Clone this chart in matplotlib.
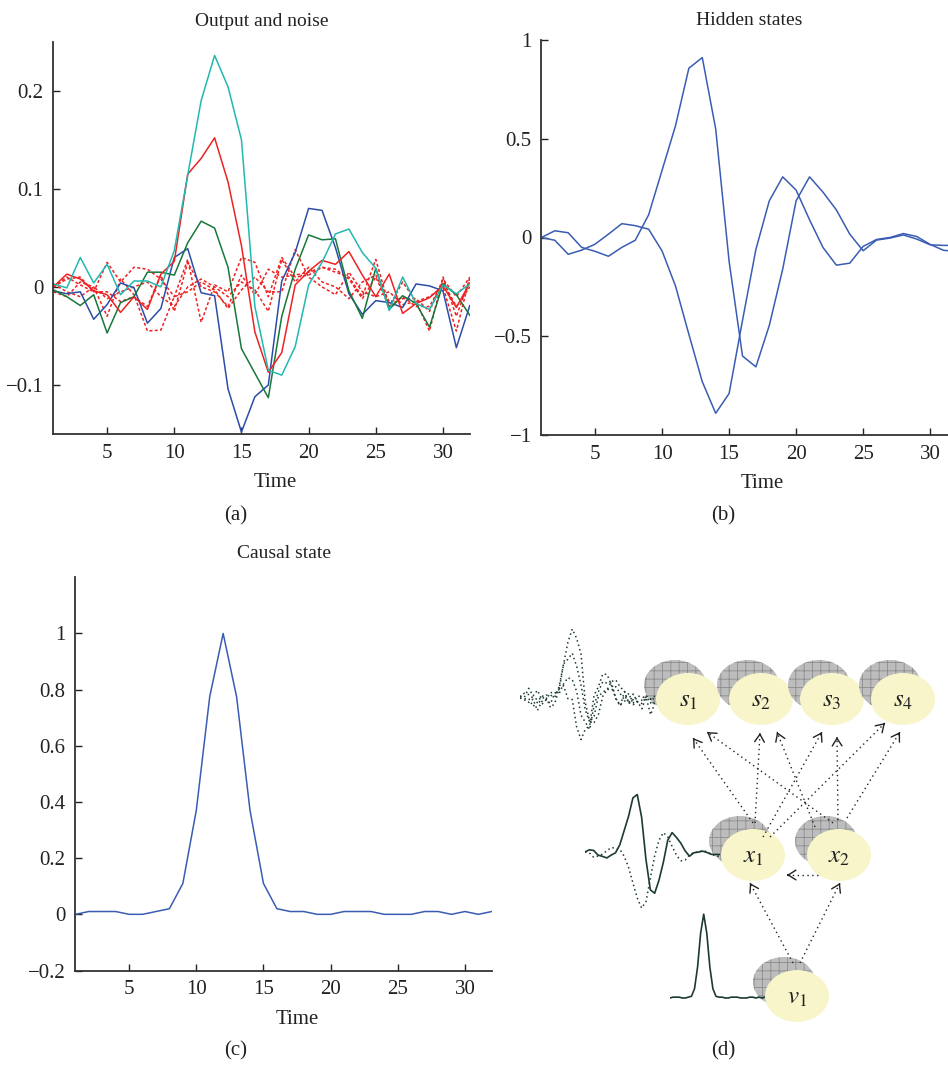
import numpy as np
import matplotlib.pyplot as plt
from matplotlib.patches import Ellipse

plt.rcParams['font.family'] = ['Liberation Serif', 'DejaVu Serif']
plt.rcParams['mathtext.fontset'] = 'stix'
plt.rcParams['hatch.linewidth'] = 0.6

# Data
time = np.arange(1, 33)

out_blue = [-0.004, -0.007, -0.005, -0.033, -0.018, 0.004, -0.001, -0.037, -0.022, 0.03, 0.039,
            -0.006, -0.009, -0.104, -0.148, -0.112, -0.1, 0.006, 0.035, 0.08, 0.078, 0.04,
            -0.007, -0.028, -0.014, -0.016, -0.021, 0.003, 0.001, -0.004, -0.062, -0.019]
out_green = [-0.003, -0.01, -0.019, -0.008, -0.047, -0.016, -0.01, 0.015, 0.015, 0.012, 0.045,
             0.067, 0.06, 0.02, -0.063, -0.088, -0.113, -0.03, 0.018, 0.053, 0.048, 0.049,
             -0.004, -0.032, 0.019, -0.023, -0.009, -0.017, -0.041, 0.003, -0.008, -0.029]
out_red = [0.0, 0.013, 0.008, -0.004, -0.008, -0.026, -0.01, -0.023, 0.013, 0.026, 0.115,
           0.131, 0.152, 0.107, 0.042, -0.046, -0.087, -0.067, 0.002, 0.016, 0.027, 0.023,
           0.036, 0.012, -0.01, 0.013, -0.027, -0.017, -0.011, 0.001, -0.021, 0.004]
out_cyan = [0.003, -0.001, 0.03, 0.004, 0.023, -0.008, 0.006, 0.006, 0.0, 0.037, 0.114,
            0.19, 0.236, 0.204, 0.15, -0.02, -0.085, -0.09, -0.061, 0.002, 0.025, 0.054,
            0.059, 0.035, 0.019, -0.024, 0.01, -0.017, -0.023, 0.002, -0.007, 0.003]

noise_1 = [0.0, 0.008, 0.01, -0.005, 0.025, 0.005, 0.02, 0.018, 0.008, -0.01, 0.028,
           -0.036, 0.002, -0.005, 0.03, 0.025, -0.01, 0.03, 0.01, 0.012, 0.02, 0.015,
           0.01, -0.01, 0.028, -0.02, 0.005, -0.015, -0.01, 0.0, -0.045, 0.01]
noise_2 = [-0.005, -0.01, 0.005, 0.0, -0.03, 0.008, -0.008, -0.045, -0.044, -0.01, -0.005,
           0.005, -0.003, -0.022, -0.003, 0.01, -0.005, -0.005, 0.038, 0.01, 0.0, -0.008,
           0.015, -0.005, -0.01, -0.005, -0.018, -0.015, -0.045, 0.01, -0.03, 0.008]
noise_3 = [0.0, 0.01, 0.002, -0.005, -0.005, -0.015, -0.01, -0.02, 0.012, -0.025, 0.025,
           0.0, -0.005, -0.02, 0.012, -0.008, 0.018, 0.01, 0.012, 0.015, 0.02, 0.018,
           0.008, -0.012, 0.01, -0.02, -0.01, -0.02, -0.02, 0.005, -0.02, 0.0]
noise_4 = [0.003, -0.005, -0.01, 0.0, -0.012, -0.005, 0.0, 0.005, -0.01, -0.02, 0.0,
           0.008, 0.0, -0.01, 0.005, -0.003, -0.025, 0.028, 0.005, 0.02, 0.005, 0.0,
           -0.012, 0.005, 0.012, -0.015, -0.012, -0.012, -0.025, 0.008, -0.01, 0.01]

hidden_1 = [0.0, 0.034, 0.024, -0.05, -0.07, -0.095, -0.05, -0.014, 0.115, 0.34, 0.565,
            0.857, 0.911, 0.55, -0.12, -0.6, -0.655, -0.445, -0.16, 0.186, 0.307, 0.23,
            0.14, 0.017, -0.067, -0.013, -0.003, 0.013, -0.008, -0.037, -0.04, -0.04]
hidden_2 = [0.0, -0.014, -0.085, -0.064, -0.034, 0.017, 0.07, 0.06, 0.042, -0.068, -0.245,
            -0.49, -0.73, -0.89, -0.79, -0.42, -0.06, 0.186, 0.307, 0.24, 0.09, -0.05,
            -0.14, -0.13, -0.045, -0.01, 0.0, 0.02, 0.005, -0.035, -0.065, -0.07]

causal = [0.0, 0.01, 0.01, 0.01, 0.0, 0.0, 0.01, 0.02, 0.11, 0.37, 0.775, 1.0, 0.775,
          0.37, 0.11, 0.02, 0.01, 0.01, 0.0, 0.0, 0.01, 0.01, 0.01, 0.0, 0.0, 0.0, 0.01,
          0.01, 0.0, 0.01, 0.0, 0.01]

W, H = 948, 1065
fig = plt.figure(figsize=(W / 100, H / 100), dpi=100)


def px_box(x0, y0, x1, y1):
    return [x0 / W, 1 - y1 / H, (x1 - x0) / W, (y1 - y0) / H]


def style(ax, yticks, ylabels, title, pad):
    for s in ['top', 'right']:
        ax.spines[s].set_visible(False)
    for s in ['left', 'bottom']:
        ax.spines[s].set_linewidth(1.3)
        ax.spines[s].set_color('#333333')
    ax.set_xlim(1, 32)
    ax.set_xticks([5, 10, 15, 20, 25, 30])
    ax.set_yticks(yticks)
    ax.set_yticklabels(ylabels)
    ax.tick_params(direction='in', length=5, width=1, labelsize=15, colors='#222222', pad=7)
    ax.set_xlabel('Time', fontsize=15, color='#222222')
    ax.xaxis.set_label_coords(0.532, -0.1)
    ax.set_title(title, fontsize=14, color='#222222', pad=pad)


# (a) Output and noise
ax_a = fig.add_axes(px_box(53.4, 41.7, 469.8, 434))
for n in [noise_1, noise_2, noise_3, noise_4]:
    ax_a.plot(time, n, color='#ee2222', ls=(0, (2, 1.5)), lw=1.1)
ax_a.plot(time, out_blue, color='#2c4ea8', lw=1.1)
ax_a.plot(time, out_green, color='#18783a', lw=1.1)
ax_a.plot(time, out_red, color='#ee2222', lw=1.1)
ax_a.plot(time, out_cyan, color='#22b8b0', lw=1.1)
ax_a.set_ylim(-0.15, 0.25)
style(ax_a, [-0.1, 0, 0.1, 0.2], ['\u22120.1', '0', '0.1', '0.2'], 'Output and noise', 11)

# (b) Hidden states
ax_b = fig.add_axes(px_box(541.4, 40, 957, 435))
ax_b.plot(time, hidden_1, color='#3a5cb2', lw=1.1)
ax_b.plot(time, hidden_2, color='#3a5cb2', lw=1.1)
ax_b.set_ylim(-1, 1)
style(ax_b, [-1, -0.5, 0, 0.5, 1], ['\u22121', '\u22120.5', '0', '0.5', '1'], 'Hidden states', 11)

# (c) Causal state
ax_c = fig.add_axes(px_box(75.4, 577.3, 491.8, 970.5))
ax_c.plot(time, causal, color='#3a5cb2', lw=1.1)
ax_c.set_ylim(-0.2, 1.2)
style(ax_c, [-0.2, 0, 0.2, 0.4, 0.6, 0.8, 1],
      ['\u22120.2', '0', '0.2', '0.4', '0.6', '0.8', '1'], 'Causal state', 14)

# (d) diagram drawn in pixel coordinates
dax = fig.add_axes([0, 0, 1, 1])
dax.set_xlim(0, W)
dax.set_ylim(H, 0)
dax.axis('off')
dax.set_zorder(-1)

nodes = {'s_1': (688, 699), 's_2': (761, 699), 's_3': (832, 699), 's_4': (903, 699),
         'x_1': (753, 855), 'x_2': (839, 855), 'v_1': (797, 996)}
for name, (cx, cy) in nodes.items():
    dax.add_patch(Ellipse((cx - 13, cy - 14), 62, 50, facecolor='#bdbdbd',
                          edgecolor='#8c8c8c', lw=0, hatch='++'))
    dax.add_patch(Ellipse((cx, cy), 64, 52, facecolor='#f8f5cb', edgecolor='none'))
    dax.text(cx, cy + 2, f'${name}$', fontsize=18, ha='center', va='center', color='#222222')

arrows = [((753, 823), (693, 738)), ((755, 823), (760, 733)), ((763, 837), (822, 732)),
          ((770, 837), (885, 723)), ((833, 823), (707, 732)), ((815, 827), (777, 732)),
          ((838, 820), (837, 737)), ((847, 818), (900, 732)),
          ((793, 963), (750, 883)), ((800, 963), (840, 883)), ((818, 875), (787, 875))]
for (x0, y0), (x1, y1) in arrows:
    dax.plot([x0, x1], [y0, y1], color='#222222', lw=1, ls=(0, (1, 2.5)))
    d = np.array([x1 - x0, y1 - y0], dtype=float)
    d /= np.hypot(*d)
    dax.annotate('', xy=(x1, y1), xytext=(x1 - d[0], y1 - d[1]),
                 arrowprops=dict(arrowstyle='->,head_length=0.55,head_width=0.35',
                                 lw=1, color='#222222', shrinkA=0, shrinkB=0))

wave = '#1c3b30'
ax_w1 = fig.add_axes(px_box(520, 625, 655, 745))
for s in [out_blue, out_green, out_red, out_cyan]:
    ax_w1.plot(time, s, color=wave, ls=(0, (1, 2)), lw=1.1)
ax_w1.set_xlim(1, 32)
ax_w1.set_ylim(-0.167, 0.25)
ax_w1.axis('off')

ax_w2 = fig.add_axes(px_box(585, 770, 720, 915))
ax_w2.plot(time, hidden_1, color=wave, lw=1.2)
ax_w2.plot(time, hidden_2, color=wave, ls=(0, (1, 2)), lw=1.1)
ax_w2.set_xlim(1, 32)
ax_w2.set_ylim(-1.0, 1.3)
ax_w2.axis('off')

ax_w3 = fig.add_axes(px_box(670, 910, 765, 1000))
ax_w3.plot(time, causal, color=wave, lw=1.2)
ax_w3.set_xlim(1, 32)
ax_w3.set_ylim(-0.024, 1.05)
ax_w3.axis('off')

# captions
for lab, x, y in [('(a)', 236, 516), ('(b)', 723, 516), ('(c)', 236, 1051), ('(d)', 723, 1051)]:
    fig.text(x / W, 1 - y / H, lab, fontsize=15, ha='center', va='center', color='#222222')

fig.savefig('out.png', dpi=100)
